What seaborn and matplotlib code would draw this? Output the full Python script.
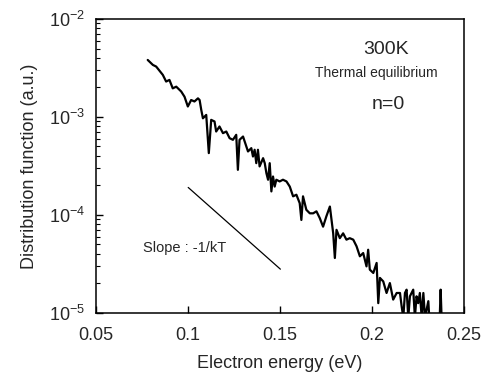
import matplotlib
matplotlib.use("Agg")
import matplotlib.pyplot as plt
import seaborn as sns
import pandas as pd
from matplotlib.ticker import LogLocator, NullFormatter, FixedLocator

sns.set_style("ticks")
plt.rcParams['font.family'] = ['Liberation Sans', 'DejaVu Sans']
plt.rcParams['mathtext.default'] = 'regular'

energy = [0.0781, 0.0809, 0.0827, 0.0863, 0.0881, 0.0899, 0.0917, 0.0936, 0.0963, 0.0981,
          0.0999, 0.1017, 0.1035, 0.1054, 0.1063, 0.1072, 0.1081, 0.1099, 0.1113, 0.1126,
          0.1144, 0.1153, 0.1171, 0.1190, 0.1208, 0.1226, 0.1244, 0.1262, 0.1271, 0.1280,
          0.1299, 0.1317, 0.1326, 0.1344, 0.1353, 0.1362, 0.1371, 0.1380, 0.1389, 0.1408,
          0.1417, 0.1426, 0.1435, 0.1444, 0.1453, 0.1462, 0.1471, 0.1480, 0.1498, 0.1516,
          0.1535, 0.1553, 0.1571, 0.1589, 0.1607, 0.1616, 0.1625, 0.1643, 0.1662, 0.1680,
          0.1698, 0.1716, 0.1734, 0.1752, 0.1771, 0.1780, 0.1789, 0.1798, 0.1807, 0.1825,
          0.1843, 0.1861, 0.1879, 0.1898, 0.1916, 0.1934, 0.1952, 0.1970, 0.1979, 0.1988,
          0.2007, 0.2025, 0.2034, 0.2043, 0.2061, 0.2079, 0.2097, 0.2115, 0.2134, 0.2152,
          0.2161, 0.2170, 0.2179, 0.2188, 0.2197, 0.2206, 0.2224, 0.2233, 0.2242, 0.2251,
          0.2260, 0.2270, 0.2279, 0.2288, 0.2306, 0.2311]
distribution = [3.82e-3, 3.40e-3, 3.27e-3, 2.69e-3, 2.30e-3, 2.39e-3, 1.96e-3, 2.04e-3, 1.82e-3, 1.61e-3,
                1.28e-3, 1.49e-3, 1.44e-3, 1.55e-3, 1.49e-3, 1.18e-3, 9.7e-4, 1.05e-3, 4.28e-4, 9.35e-4,
                9.0e-4, 7.11e-4, 8.0e-4, 6.84e-4, 7.11e-4, 6.08e-4, 5.85e-4, 6.58e-4, 2.89e-4, 5.85e-4,
                6.32e-4, 5.0e-4, 4.45e-4, 4.81e-4, 3.95e-4, 4.63e-4, 3.38e-4, 4.63e-4, 3.13e-4, 3.80e-4,
                3.38e-4, 2.67e-4, 2.29e-4, 3.38e-4, 1.74e-4, 2.47e-4, 1.95e-4, 2.29e-4, 2.20e-4, 2.29e-4,
                2.20e-4, 1.95e-4, 1.55e-4, 1.61e-4, 1.32e-4, 8.9e-5, 1.55e-4, 1.13e-4, 1.04e-4, 1.04e-4,
                1.09e-4, 9.3e-5, 7.6e-5, 9.7e-5, 1.22e-4, 8.9e-5, 6.5e-5, 3.64e-5, 7.06e-5, 5.8e-5,
                6.5e-5, 5.6e-5, 5.8e-5, 5.6e-5, 4.79e-5, 3.79e-5, 4.09e-5, 2.99e-5, 4.42e-5, 2.77e-5,
                2.56e-5, 3.24e-5, 1.26e-5, 2.28e-5, 2.10e-5, 1.60e-5, 2.02e-5, 1.37e-5, 1.60e-5, 1.60e-5,
                1.17e-5, 9.0e-6, 1.60e-5, 1.73e-5, 9.0e-6, 1.48e-5, 1.73e-5, 9.0e-6, 1.48e-5, 1.26e-5,
                1.60e-5, 9.0e-6, 1.60e-5, 9.0e-6, 1.32e-5, 9.0e-6]
spike_energy = [0.2368, 0.2373, 0.2378]
spike_distribution = [9.0e-6, 1.73e-5, 9.0e-6]
slope_energy = [0.1001, 0.1502]
slope_distribution = [1.91e-4, 2.80e-5]

xticks = [0.05, 0.1, 0.15, 0.2, 0.25]
xtick_labels = ["0.05", "0.1", "0.15", "0.2", "0.25"]
yticks = [1e-5, 1e-4, 1e-3, 1e-2]
ytick_labels = ["$10^{-5}$", "$10^{-4}$", "$10^{-3}$", "$10^{-2}$"]

df = pd.DataFrame({"energy": energy, "distribution": distribution})
df_spike = pd.DataFrame({"energy": spike_energy, "distribution": spike_distribution})
df_slope = pd.DataFrame({"energy": slope_energy, "distribution": slope_distribution})

fig = plt.figure(figsize=(4.83, 3.77), dpi=100)
ax = fig.add_axes([0.1988, 0.1698, 0.7619, 0.7798])

sns.lineplot(data=df, x="energy", y="distribution", ax=ax, color="black", lw=1.6, sort=False)
sns.lineplot(data=df_spike, x="energy", y="distribution", ax=ax, color="black", lw=1.6, sort=False)
sns.lineplot(data=df_slope, x="energy", y="distribution", ax=ax, color="black", lw=0.9, sort=False)

ax.set_yscale("log")
ax.set_xlim(0.05, 0.25)
ax.set_ylim(1e-5, 1e-2)

ax.xaxis.set_major_locator(FixedLocator(xticks))
ax.set_xticklabels(xtick_labels, fontsize=13)
ax.set_yticks(yticks)
ax.set_yticklabels(ytick_labels, fontsize=13)
ax.yaxis.set_minor_locator(LogLocator(base=10, subs=range(2, 10), numticks=20))
ax.yaxis.set_minor_formatter(NullFormatter())
ax.tick_params(axis="x", which="major", direction="in", length=5, width=1, color="black", pad=10)
ax.tick_params(axis="y", which="major", direction="in", length=5, width=1, color="black", pad=8)
ax.tick_params(axis="y", which="minor", direction="in", length=3, width=0.8, color="black")
ax.tick_params(axis="x", which="minor", length=0)

for s in ax.spines.values():
    s.set_visible(True)
    s.set_color("black")
    s.set_linewidth(1.1)

ax.set_xlabel("Electron energy (eV)", fontsize=13, labelpad=8)
ax.set_ylabel("Distribution function (a.u.)", fontsize=13, labelpad=8)

ax.text(0.2075, 4.83e-3, "300K", fontsize=14, ha="center", va="center")
ax.text(0.2025, 2.79e-3, "Thermal equilibrium", fontsize=10, ha="center", va="center")
ax.text(0.2088, 1.33e-3, "n=0", fontsize=14, ha="center", va="center")
ax.text(0.0754, 4.6e-5, "Slope : -1/kT", fontsize=10.5, ha="left", va="center")

fig.savefig("out.png", dpi=100)
